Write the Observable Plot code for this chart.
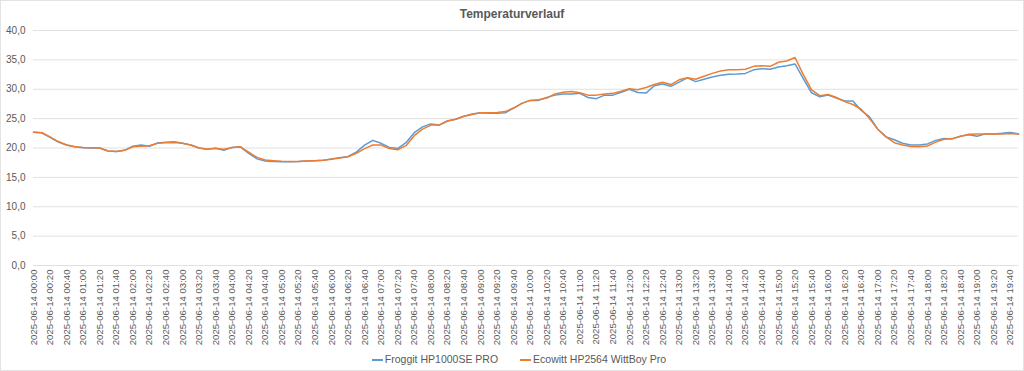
<!DOCTYPE html>
<html><head><meta charset="utf-8">
<script src="https://cdn.jsdelivr.net/npm/d3@7"></script>
<script src="https://cdn.jsdelivr.net/npm/@observablehq/plot@0.6"></script>
<style>
body{margin:0;background:#fff;font-family:"Liberation Sans",Arial,sans-serif;}
#wrap{position:relative;width:1024px;height:371px;overflow:hidden;}
#border{position:absolute;left:0;top:0;width:1022px;height:369px;border:1px solid #e3e3e3;pointer-events:none;}
#title{height:24px;line-height:28px;text-align:center;font-size:12px;color:#595959;font-weight:bold;}
#chart{height:323px;}
#legend{height:24px;display:flex;justify-content:center;align-items:center;gap:22px;font-size:10.5px;color:#595959;padding-left:14px;}
.sw{display:inline-block;width:11px;height:2px;margin-right:2px;vertical-align:middle;}
</style></head><body>
<div id="wrap">
<div id="title">Temperaturverlauf</div>
<div id="chart"></div>
<div id="legend"></div>
<div id="border"></div>
</div>
<script>
const dateLabel = "2025-06-14";
const times = ["00:00","00:10","00:20","00:30","00:40","00:50","01:00","01:10","01:20","01:30","01:40","01:50",
"02:00","02:10","02:20","02:30","02:40","02:50","03:00","03:10","03:20","03:30","03:40","03:50",
"04:00","04:10","04:20","04:30","04:40","04:50","05:00","05:10","05:20","05:30","05:40","05:50",
"06:00","06:10","06:20","06:30","06:40","06:50","07:00","07:10","07:20","07:30","07:40","07:50",
"08:00","08:10","08:20","08:30","08:40","08:50","09:00","09:10","09:20","09:30","09:40","09:50",
"10:00","10:10","10:20","10:30","10:40","10:50","11:00","11:10","11:20","11:30","11:40","11:50",
"12:00","12:10","12:20","12:30","12:40","12:50","13:00","13:10","13:20","13:30","13:40","13:50",
"14:00","14:10","14:20","14:30","14:40","14:50","15:00","15:10","15:20","15:30","15:40","15:50",
"16:00","16:10","16:20","16:30","16:40","16:50","17:00","17:10","17:20","17:30","17:40","17:50",
"18:00","18:10","18:20","18:30","18:40","18:50","19:00","19:10","19:20","19:30","19:40","19:50"];
const froggit = [22.7,22.6,21.8,21.0,20.5,20.2,20.05,20.0,20.0,19.5,19.4,19.6,
20.3,20.5,20.3,20.85,21.0,21.05,20.8,20.5,20.0,19.8,19.95,19.6,
20.1,20.2,19.1,18.15,17.8,17.7,17.65,17.65,17.7,17.8,17.85,17.9,
18.15,18.35,18.55,19.3,20.5,21.3,20.8,20.1,19.9,20.9,22.6,23.6,
24.1,23.9,24.6,24.9,25.4,25.8,26.0,25.9,25.9,26.0,26.8,27.6,
28.1,28.1,28.6,29.0,29.2,29.2,29.3,28.6,28.4,29.0,29.0,29.5,
30.0,29.45,29.35,30.6,30.9,30.5,31.2,31.95,31.3,31.7,32.1,32.4,
32.55,32.6,32.7,33.3,33.5,33.4,33.8,34.0,34.3,31.8,29.4,28.7,
29.0,28.5,28.0,28.0,26.4,25.3,23.2,21.9,21.4,20.8,20.5,20.5,
20.7,21.3,21.6,21.55,22.0,22.25,22.0,22.4,22.4,22.5,22.65,22.4];
const ecowitt = [22.7,22.6,21.9,21.1,20.5,20.2,20.1,20.05,20.0,19.5,19.4,19.6,
20.2,20.3,20.4,20.8,20.9,20.95,20.8,20.5,20.0,19.8,19.95,19.8,
20.1,20.2,19.3,18.4,17.95,17.85,17.75,17.7,17.7,17.8,17.85,17.9,
18.1,18.3,18.5,19.1,19.9,20.5,20.5,19.9,19.7,20.4,22.1,23.2,
23.9,23.9,24.6,24.9,25.4,25.7,26.0,26.0,26.05,26.2,26.8,27.6,
28.1,28.2,28.5,29.2,29.5,29.6,29.4,29.0,29.0,29.2,29.3,29.65,
30.1,29.9,30.3,30.8,31.2,30.8,31.6,31.95,31.7,32.2,32.7,33.1,
33.3,33.3,33.4,33.9,34.0,33.9,34.6,34.8,35.4,32.5,29.9,28.9,
29.1,28.6,27.9,27.4,26.6,25.0,23.2,21.9,20.9,20.5,20.25,20.2,
20.35,21.0,21.5,21.6,22.0,22.35,22.4,22.4,22.4,22.4,22.45,22.4];
const seriesNames = ["Froggit HP1000SE PRO","Ecowitt HP2564 WittBoy Pro"];
const seriesColors = ["#5B9BD5","#ED7D31"];
const yTicks = [0,5,10,15,20,25,30,35,40];
const xTickTimes = times.filter((t,i)=>i%2===0);

const parse = d3.utcParse("%Y-%m-%d %H:%M");
const rows = [];
times.forEach((t,i)=>{
  rows.push({time:parse(dateLabel+" "+t), value:froggit[i], series:seriesNames[0]});
  rows.push({time:parse(dateLabel+" "+t), value:ecowitt[i], series:seriesNames[1]});
});
const loc = d3.formatLocale({decimal:",",thousands:".",grouping:[3],currency:["","€"]});
const yfmt = loc.format(".1f");
const xTicks = xTickTimes.map(t=>parse(dateLabel+" "+t));
const font = "'Liberation Sans',Arial,sans-serif";

const chart = Plot.plot({
  width:1024, height:323,
  marginTop:6, marginBottom:82, marginLeft:33, marginRight:6,
  style:{fontFamily:font, fontSize:"10px", color:"#595959", background:"transparent"},
  x:{type:"utc", domain:[parse(dateLabel+" "+times[0]), parse(dateLabel+" "+times[times.length-1])]},
  y:{domain:[0,40]},
  color:{domain:seriesNames, range:seriesColors},
  marks:[
    Plot.ruleY(yTicks,{stroke:"#e0e0e0", strokeWidth:1}),
    Plot.axisY({ticks:yTicks, tickFormat:yfmt, tickSize:0, tickPadding:8, label:null, fill:"#595959"}),
    Plot.axisX({ticks:xTicks, tickFormat:d3.utcFormat("%Y-%m-%d %H:%M"), tickRotate:-90, tickSize:0, tickPadding:4, label:null, fill:"#595959", fontSize:9.6}),
    Plot.line(rows,{x:"time", y:"value", z:"series", stroke:"series", strokeWidth:1.5, curve:"linear"})
  ]
});
document.getElementById("chart").appendChild(chart);

const lg = document.getElementById("legend");
seriesNames.forEach((n,i)=>{
  const s = document.createElement("span");
  s.innerHTML = `<span class="sw" style="background:${seriesColors[i]}"></span>${n}`;
  lg.appendChild(s);
});
</script>
</body></html>
